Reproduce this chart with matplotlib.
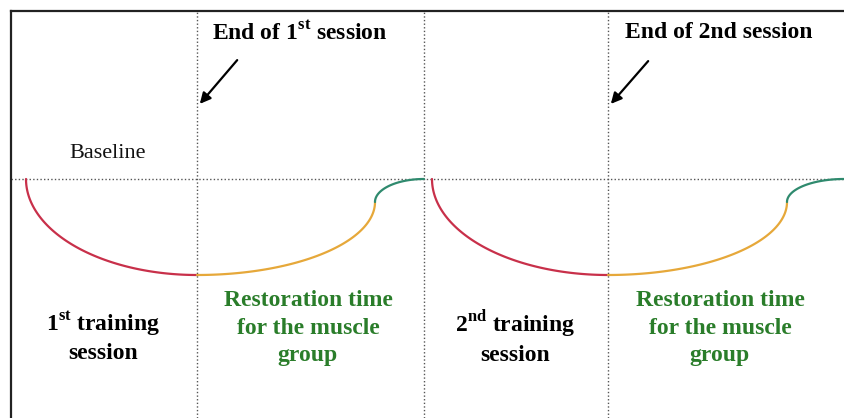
import numpy as np
import matplotlib.pyplot as plt

plt.rcParams['font.family'] = ['Liberation Serif', 'DejaVu Serif']
plt.rcParams['mathtext.fontset'] = 'custom'
plt.rcParams['mathtext.rm'] = 'Liberation Serif'
plt.rcParams['mathtext.bf'] = 'Liberation Serif:bold'

# two training cycles (x in px along the frame, y relative to baseline)
session_start = [26, 432]
session_end = [197, 608]
kink_x = [375, 787]
recovery_end = [424, 844]
dip_level = -96
kink_level = -23
baseline = 0
dividers = [197, 424, 608]

train_labels = ["1$^{\\mathbf{st}}$ training\nsession", "2$^{\\mathbf{nd}}$ training\nsession"]
rest_label = "Restoration time\nfor the muscle\ngroup"
end_labels = ["End of 1$^{\\mathbf{st}}$ session", "End of 2nd session"]

red = "#c8304a"
orange = "#e6a83a"
green = "#2f8a6e"
text_green = "#2a7d2a"

fig = plt.figure(figsize=(8.44, 4.18), dpi=100)
ax = fig.add_axes([11 / 844, 0, 833 / 844, 407 / 418])
ax.set_xlim(11, 844)
ax.set_ylim(-239, 168)
ax.set_xticks([])
ax.set_yticks([])
for s in ['right', 'bottom']:
    ax.spines[s].set_visible(False)
for s in ['left', 'top']:
    ax.spines[s].set_linewidth(1.6)
    ax.spines[s].set_color('#222222')

# dotted grid
dot = (0, (1, 1.6))
ax.axhline(baseline, color='#555555', lw=1.0, ls=dot)
for x in dividers:
    ax.axvline(x, color='#555555', lw=1.0, ls=dot)

t = np.linspace(0, np.pi / 2, 100)
for i in range(2):
    # fatigue during training
    w = session_end[i] - session_start[i]
    ax.plot(session_start[i] + w * (1 - np.cos(t)), baseline + dip_level * np.sin(t),
            color=red, lw=1.6, solid_capstyle='round')
    # slow recovery
    w = kink_x[i] - session_end[i]
    ax.plot(session_end[i] + w * np.sin(t), dip_level + (kink_level - dip_level) * (1 - np.cos(t)),
            color=orange, lw=1.6, solid_capstyle='round')
    # back to baseline
    w = recovery_end[i] - kink_x[i]
    ax.plot(kink_x[i] + w * (1 - np.cos(t)), kink_level + (baseline - kink_level) * np.sin(t),
            color=green, lw=1.6, solid_capstyle='round')

# labels
ax.text(108, 26, "Baseline", fontsize=16, ha='center', va='center', color='#111111')
ax.text(300, 146, end_labels[0], fontsize=17, fontweight='bold', ha='center', va='center')
ax.text(719, 146, end_labels[1], fontsize=17, fontweight='bold', ha='center', va='center')
ax.annotate("", xy=(198, 73), xytext=(239, 121),
            arrowprops=dict(arrowstyle='-|>', color='black', lw=1.6, mutation_scale=16))
ax.annotate("", xy=(609, 73), xytext=(650, 120),
            arrowprops=dict(arrowstyle='-|>', color='black', lw=1.6, mutation_scale=16))

for cx, lab in zip([103, 515], train_labels):
    ax.text(cx, -158, lab, fontsize=17, fontweight='bold', ha='center', va='center',
            linespacing=1.33)
for cx in [308, 720]:
    ax.text(cx, -149, rest_label, fontsize=17, fontweight='bold', ha='center', va='center',
            color=text_green, linespacing=1.4)

fig.savefig("out.png", dpi=100, facecolor='white')
